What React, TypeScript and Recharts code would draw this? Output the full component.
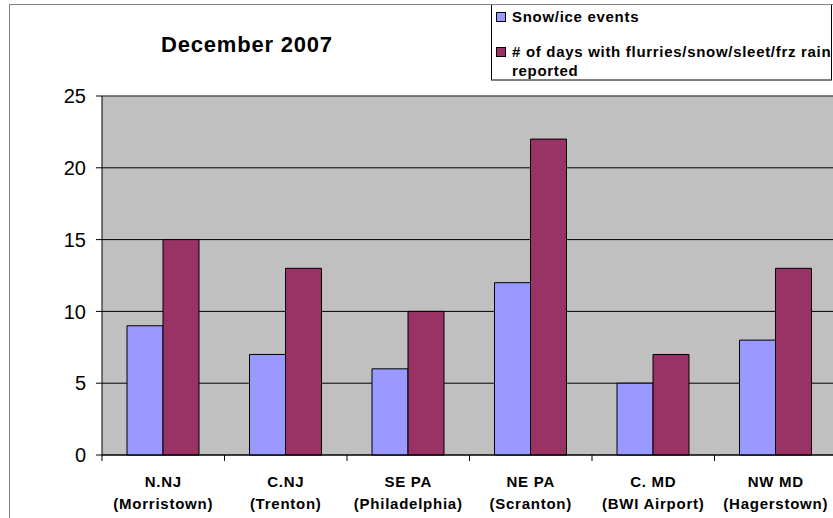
import React from "react";
import { BarChart, Bar, XAxis, YAxis, CartesianGrid, ReferenceLine } from "recharts";

// Regions and stations
const REGIONS = ["N.NJ", "C.NJ", "SE PA", "NE PA", "C. MD", "NW MD"];
const STATIONS = ["(Morristown)", "(Trenton)", "(Philadelphia)", "(Scranton)", "(BWI Airport)", "(Hagerstown)"];

// Series values
const SNOW_ICE_EVENTS = [9, 7, 6, 12, 5, 8];
const WINTRY_DAYS = [15, 13, 10, 22, 7, 13];

const Y_TICKS = [0, 5, 10, 15, 20, 25];

const TITLE = "December 2007";
const SERIES_NAMES = ["Snow/ice events", "# of days with flurries/snow/sleet/frz rain reported"];
const LEGEND_LINES = [["Snow/ice events"], ["# of days with flurries/snow/sleet/frz rain", "reported"]];
const COLORS = ["#9999FF", "#993366"];

const FONT = "'Liberation Sans', Arial, sans-serif";

// layout
const CHART_W = 850;
const CHART_H = 518;
const MARGIN = { top: 96, right: 13, bottom: 0, left: 0 };
const Y_AXIS_W = 102;
const X_AXIS_H = 63;
const TICK_SIZE = 6;
const TICK_MARGIN = 2;
const HALF_BAND = (CHART_W - MARGIN.left - MARGIN.right - Y_AXIS_W) / REGIONS.length / 2;

const data = REGIONS.map((region, i) => ({
  region,
  events: SNOW_ICE_EVENTS[i],
  days: WINTRY_DAYS[i],
}));

function RegionTick(props: any) {
  const { x, y, payload } = props;
  const idx = payload?.index ?? props.index ?? 0;
  const axisY = y - TICK_SIZE - TICK_MARGIN;
  const textStyle = { fontFamily: FONT, fontSize: 15, fontWeight: 700, letterSpacing: 0.75 };
  return (
    <g>
      <line x1={x - HALF_BAND} x2={x - HALF_BAND} y1={axisY} y2={axisY + 6} stroke="#000" />
      <text x={x} y={axisY + 32} textAnchor="middle" fill="#000" style={textStyle}>
        {payload.value}
      </text>
      <text x={x} y={axisY + 54} textAnchor="middle" fill="#000" style={textStyle}>
        {STATIONS[idx]}
      </text>
    </g>
  );
}

export default function App() {
  return (
    <div
      style={{
        position: "fixed",
        left: 0,
        top: 0,
        width: 833,
        height: 518,
        overflow: "hidden",
        background: "#fff",
      }}
    >
      <div style={{ position: "absolute", left: 0, top: 0 }}>
        <BarChart width={CHART_W} height={CHART_H} data={data} margin={MARGIN} barGap={0}>
          <CartesianGrid vertical={false} stroke="#000" fill="#C0C0C0" fillOpacity={1} />
          <ReferenceLine y={25} stroke="#808080" />
          <XAxis
            dataKey="region"
            height={X_AXIS_H}
            axisLine={{ stroke: "#000" }}
            tickLine={false}
            tickSize={TICK_SIZE}
            tickMargin={TICK_MARGIN}
            interval={0}
            tick={<RegionTick />}
          />
          <YAxis
            width={Y_AXIS_W}
            domain={[0, 25]}
            ticks={Y_TICKS}
            interval={0}
            axisLine={{ stroke: "#000" }}
            tickLine={{ stroke: "#000" }}
            tickSize={TICK_SIZE}
            tickMargin={10}
            tick={{ fill: "#000", fontSize: 20, fontFamily: FONT }}
          />
          <Bar
            dataKey="events"
            name={SERIES_NAMES[0]}
            fill={COLORS[0]}
            stroke="#000"
            strokeWidth={1}
            barSize={36}
            isAnimationActive={false}
          />
          <Bar
            dataKey="days"
            name={SERIES_NAMES[1]}
            fill={COLORS[1]}
            stroke="#000"
            strokeWidth={1}
            barSize={36}
            isAnimationActive={false}
          />
        </BarChart>
      </div>

      <svg
        width={833}
        height={518}
        style={{ position: "absolute", left: 0, top: 0, pointerEvents: "none" }}
      >
        <rect x={9.5} y={4.5} width={900} height={600} fill="none" stroke="#808080" />
        <text
          x={247}
          y={52}
          textAnchor="middle"
          style={{ fontFamily: FONT, fontSize: 22, fontWeight: 700, letterSpacing: 0.8 }}
        >
          {TITLE}
        </text>

        {/* legend */}
        <rect x={491.5} y={4.5} width={340} height={75.5} fill="#fff" stroke="#000" />
        <line x1={491} x2={833} y1={4.5} y2={4.5} stroke="#808080" />
        {LEGEND_LINES.map((lines, i) => {
          const top = i === 0 ? 12 : 47;
          return (
            <g key={i}>
              <rect x={496.5} y={top + 0.5} width={9} height={9} fill={COLORS[i]} stroke="#000" />
              {lines.map((line, j) => (
                <text
                  key={j}
                  x={512}
                  y={top + 10 + j * 19}
                  style={{ fontFamily: FONT, fontSize: 15, fontWeight: 700, letterSpacing: 0.7 }}
                >
                  {line}
                </text>
              ))}
            </g>
          );
        })}
      </svg>
    </div>
  );
}
